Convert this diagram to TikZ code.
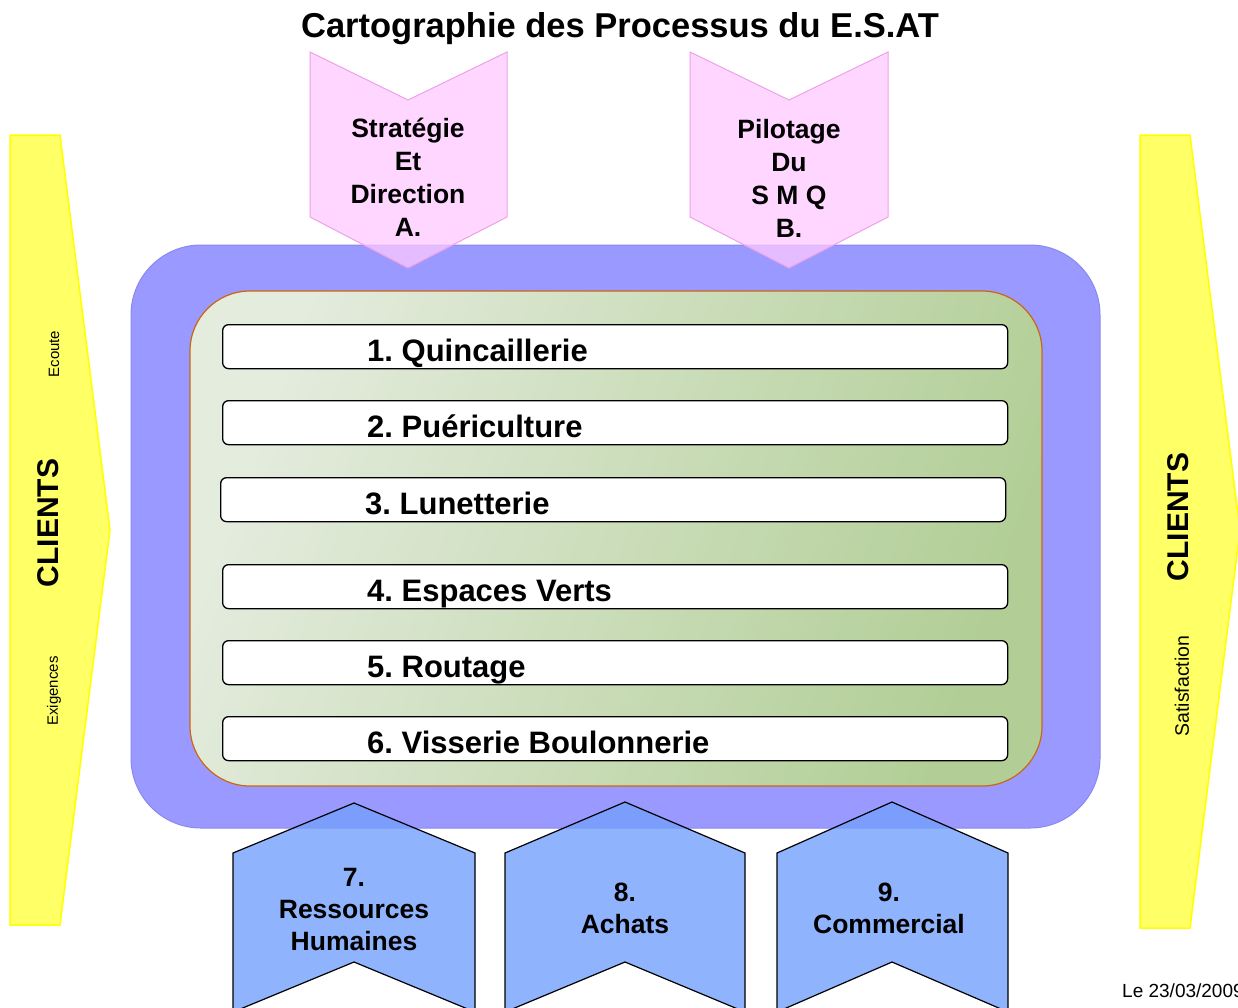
\documentclass[tikz,border=0pt]{standalone}
\usepackage{fontspec}
\setmainfont{Liberation Sans}
\setsansfont{Liberation Sans}
\frenchspacing
\definecolor{yfill}{RGB}{255,255,102}
\definecolor{yedge}{RGB}{255,255,0}
\definecolor{framefill}{RGB}{153,153,255}
\definecolor{frameedge}{RGB}{136,136,240}
\definecolor{greenL}{RGB}{228,236,222}
\definecolor{greenR}{RGB}{178,206,150}
\definecolor{greenedge}{RGB}{204,102,17}
\definecolor{pinkfill}{RGB}{255,200,255}
\definecolor{pinkedge}{RGB}{238,160,230}
\definecolor{bluechevfill}{RGB}{116,160,252}
\begin{document}
\begin{tikzpicture}[x=1pt,y=-1pt,
  yarrow/.style={draw=yedge, line width=1.5pt, fill=yfill},
  frame/.style={draw=frameedge, line width=1pt, fill=framefill, rounded corners=70pt},
  inner/.style={draw=greenedge, line width=1.2pt, left color=greenL, right color=greenR, shading angle=70, rounded corners=60pt},
  bar/.style={draw=black, line width=1.3pt, fill=white, rounded corners=6pt, minimum width=785pt, minimum height=44pt, anchor=north west, inner sep=0pt},
  bartext/.style={anchor=base west, inner sep=0pt, font=\fontsize{31}{37}\selectfont\bfseries},
  pinkchev/.style={draw=pinkedge, line width=1pt, fill=pinkfill, fill opacity=0.75},
  bluechev/.style={draw=black, line width=1.2pt, fill=bluechevfill, fill opacity=0.8},
  chevtext/.style={align=center, inner sep=0pt, font=\fontsize{26.5}{33}\selectfont\bfseries},
  bigside/.style={rotate=90, inner sep=0pt, font=\fontsize{30}{36}\selectfont\bfseries},
  smallside/.style={rotate=90, inner sep=0pt, font=\fontsize{15}{18}\selectfont}
]
\useasboundingbox (0,0) rectangle (1238,1007);
\clip (0,0) rectangle (1238,1007);

% title
\node[inner sep=0pt, font=\fontsize{34.5}{40}\selectfont\bfseries] (title) at (620,29) {Cartographie des Processus du E.S.AT};

% client arrows
\draw[yarrow] (10,135) -- (60,135) -- (110,530) -- (60,925) -- (10,925) -- cycle;
\draw[yarrow] (1140,135) -- (1190,135) -- (1240,530) -- (1190,928) -- (1140,928) -- cycle;
\node[bigside] (cl) at (48,523) {CLIENTS};
\node[smallside] (ecoute) at (54,354) {Ecoute};
\node[smallside] (exig) at (54,691) {Exigences};
\node[bigside] (cr) at (1178,517) {CLIENTS};
\node[smallside, font=\fontsize{19.5}{22}\selectfont] (satis) at (1182,686) {Satisfaction};

% frames
\draw[frame] (131,245) rectangle (1100,828);
\draw[inner] (190,291) rectangle (1042,786);

% bars
\node[bar] (b1) at (222,324) {};
\node[bar] (b2) at (222,400) {};
\node[bar] (b3) at (220,477) {};
\node[bar] (b4) at (222,564) {};
\node[bar] (b5) at (222,640) {};
\node[bar] (b6) at (222,716) {};
\node[bartext] (t1) at (367,361) {1. Quincaillerie};
\node[bartext] (t2) at (367,437) {2. Puériculture};
\node[bartext] (t3) at (365,514) {3. Lunetterie};
\node[bartext] (t4) at (367,601) {4. Espaces Verts};
\node[bartext] (t5) at (367,677) {5. Routage};
\node[bartext] (t6) at (367,753) {6. Visserie Boulonnerie};

% pink chevrons
\draw[pinkchev] (310,52) -- (408,100) -- (507,52) -- (507,217) -- (408,268) -- (310,217) -- cycle;
\draw[pinkchev] (690,52) -- (789,100) -- (888,52) -- (888,217) -- (789,268) -- (690,217) -- cycle;
\node[chevtext] (pA) at (408,177) {Stratégie\\Et\\Direction\\A.};
\node[chevtext] (pB) at (789,178) {Pilotage\\Du\\S M Q\\B.};

% blue chevrons
\draw[bluechev] (233,853) -- (354,803) -- (475,853) -- (475,1012) -- (354,962) -- (233,1012) -- cycle;
\draw[bluechev] (505,853) -- (625,802) -- (745,853) -- (745,1012) -- (625,962) -- (505,1012) -- cycle;
\draw[bluechev] (777,853) -- (892,802) -- (1008,853) -- (1008,1012) -- (892,962) -- (777,1012) -- cycle;
\node[chevtext, font=\fontsize{26.5}{32}\selectfont\bfseries] (c7) at (354,909) {7.\\Ressources\\Humaines};
\node[chevtext, font=\fontsize{26.5}{32}\selectfont\bfseries] (c8) at (625,908) {8.\\Achats};
\node[chevtext, font=\fontsize{26.5}{32}\selectfont\bfseries] (c9) at (889,908) {9.\\Commercial};

% date
\node[anchor=base west, inner sep=0pt, font=\fontsize{19}{22}\selectfont] (date) at (1122,997) {Le 23/03/2009};
\end{tikzpicture}
\end{document}
